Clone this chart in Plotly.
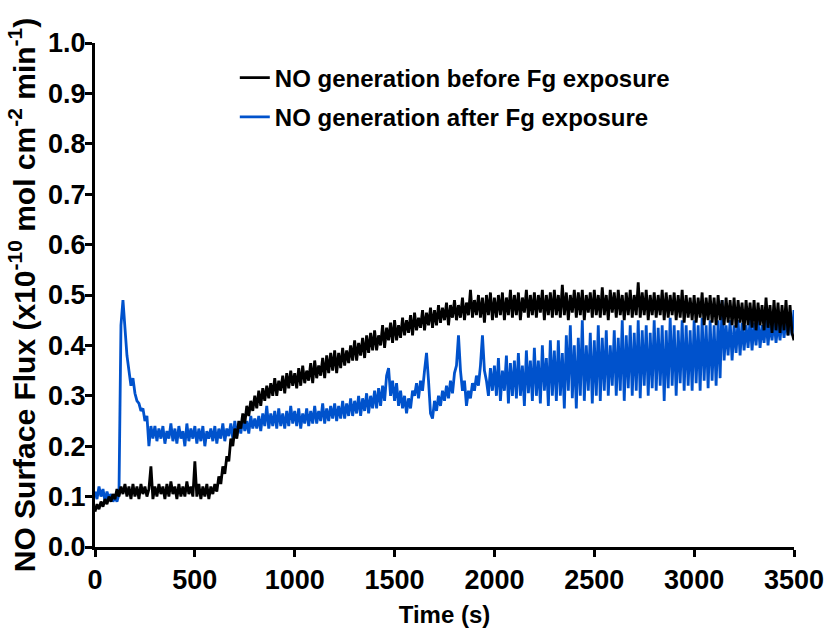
import plotly.graph_objects as go

# time grid (s), one sample every 10 s
time_s = list(range(0, 3501, 10))

# NO flux before Fg exposure (x1e-10 mol cm^-2 min^-1)
before = [
    0.07, 0.085, 0.075, 0.09, 0.08, 0.095, 0.085, 0.10, 0.09, 0.105,
    0.095, 0.115, 0.10, 0.12, 0.105, 0.125, 0.10, 0.12, 0.095, 0.125,
    0.10, 0.12, 0.095, 0.125, 0.105, 0.12, 0.10, 0.115, 0.16, 0.095,
    0.12, 0.10, 0.125, 0.105, 0.12, 0.095, 0.125, 0.10, 0.13, 0.105,
    0.12, 0.095, 0.125, 0.10, 0.12, 0.10, 0.13, 0.105, 0.12, 0.10,
    0.17, 0.10, 0.125, 0.095, 0.12, 0.10, 0.125, 0.095, 0.12, 0.105,
    0.125, 0.11, 0.14, 0.125, 0.16, 0.145, 0.18, 0.17, 0.215, 0.20,
    0.235, 0.215, 0.25, 0.235, 0.265, 0.245, 0.28, 0.26, 0.29, 0.27,
    0.30, 0.275, 0.31, 0.28, 0.315, 0.29, 0.32, 0.295, 0.325, 0.30,
    0.335, 0.30, 0.33, 0.31, 0.34, 0.305, 0.345, 0.315, 0.35, 0.32,
    0.345, 0.315, 0.355, 0.32, 0.36, 0.325, 0.35, 0.33, 0.365, 0.325,
    0.37, 0.335, 0.36, 0.34, 0.375, 0.335, 0.38, 0.345, 0.385, 0.35,
    0.39, 0.345, 0.385, 0.355, 0.395, 0.36, 0.39, 0.365, 0.40, 0.37,
    0.41, 0.37, 0.405, 0.38, 0.415, 0.375, 0.42, 0.385, 0.425, 0.39,
    0.43, 0.39, 0.42, 0.40, 0.44, 0.395, 0.435, 0.41, 0.445, 0.405,
    0.45, 0.41, 0.44, 0.415, 0.455, 0.42, 0.45, 0.425, 0.46, 0.42,
    0.465, 0.43, 0.455, 0.435, 0.47, 0.43, 0.465, 0.44, 0.475, 0.435,
    0.47, 0.44, 0.48, 0.445, 0.475, 0.45, 0.485, 0.44, 0.48, 0.455,
    0.49, 0.45, 0.48, 0.455, 0.495, 0.45, 0.485, 0.46, 0.51, 0.455,
    0.49, 0.46, 0.50, 0.455, 0.495, 0.445, 0.50, 0.46, 0.505, 0.45,
    0.495, 0.455, 0.50, 0.46, 0.505, 0.45, 0.495, 0.46, 0.51, 0.455,
    0.50, 0.46, 0.505, 0.45, 0.495, 0.465, 0.51, 0.455, 0.50, 0.46,
    0.505, 0.455, 0.50, 0.465, 0.51, 0.45, 0.50, 0.46, 0.505, 0.455,
    0.51, 0.46, 0.50, 0.455, 0.52, 0.46, 0.505, 0.45, 0.50, 0.465,
    0.51, 0.455, 0.505, 0.46, 0.51, 0.45, 0.50, 0.465, 0.505, 0.455,
    0.51, 0.46, 0.50, 0.455, 0.515, 0.46, 0.50, 0.45, 0.51, 0.465,
    0.505, 0.455, 0.51, 0.46, 0.50, 0.45, 0.505, 0.46, 0.51, 0.455,
    0.50, 0.46, 0.525, 0.455, 0.505, 0.46, 0.51, 0.45, 0.50, 0.46,
    0.505, 0.455, 0.50, 0.46, 0.51, 0.45, 0.505, 0.455, 0.50, 0.46,
    0.505, 0.45, 0.50, 0.455, 0.51, 0.445, 0.50, 0.455, 0.495, 0.45,
    0.50, 0.445, 0.495, 0.455, 0.505, 0.44, 0.495, 0.45, 0.50, 0.445,
    0.495, 0.44, 0.50, 0.45, 0.49, 0.44, 0.495, 0.445, 0.49, 0.44,
    0.495, 0.435, 0.49, 0.445, 0.485, 0.43, 0.49, 0.44, 0.485, 0.435,
    0.49, 0.43, 0.485, 0.44, 0.48, 0.43, 0.495, 0.435, 0.48, 0.425,
    0.49, 0.43, 0.485, 0.425, 0.48, 0.43, 0.49, 0.42, 0.48, 0.425,
    0.41,
]

# NO flux after Fg exposure
after = [
    0.11, 0.095, 0.12, 0.10, 0.115, 0.09, 0.11, 0.095, 0.105, 0.09,
    0.10, 0.09, 0.105, 0.44, 0.49, 0.43, 0.38, 0.35, 0.32, 0.335,
    0.305, 0.29, 0.285, 0.27, 0.275, 0.25, 0.26, 0.20, 0.24, 0.215,
    0.24, 0.21, 0.235, 0.215, 0.24, 0.205, 0.23, 0.215, 0.245, 0.21,
    0.235, 0.205, 0.24, 0.215, 0.23, 0.20, 0.245, 0.21, 0.235, 0.215,
    0.24, 0.205, 0.235, 0.21, 0.24, 0.20, 0.23, 0.215, 0.235, 0.21,
    0.24, 0.205, 0.235, 0.215, 0.245, 0.21, 0.235, 0.22, 0.245, 0.215,
    0.25, 0.22, 0.245, 0.225, 0.255, 0.23, 0.25, 0.225, 0.26, 0.235,
    0.255, 0.235, 0.26, 0.23, 0.265, 0.24, 0.28, 0.235, 0.265, 0.24,
    0.27, 0.235, 0.275, 0.24, 0.265, 0.235, 0.27, 0.24, 0.28, 0.245,
    0.27, 0.24, 0.275, 0.235, 0.265, 0.245, 0.275, 0.24, 0.27, 0.245,
    0.28, 0.245, 0.27, 0.25, 0.285, 0.245, 0.275, 0.25, 0.28, 0.255,
    0.285, 0.25, 0.28, 0.255, 0.29, 0.255, 0.285, 0.26, 0.295, 0.26,
    0.29, 0.265, 0.30, 0.26, 0.295, 0.27, 0.305, 0.265, 0.30, 0.275,
    0.31, 0.275, 0.315, 0.28, 0.32, 0.29, 0.34, 0.355, 0.30, 0.33,
    0.29, 0.325, 0.28, 0.31, 0.275, 0.30, 0.265, 0.295, 0.275, 0.31,
    0.30, 0.325, 0.295, 0.33, 0.31, 0.35, 0.385, 0.33, 0.265, 0.255,
    0.29, 0.27, 0.30, 0.28, 0.31, 0.29, 0.32, 0.295, 0.33, 0.305,
    0.345, 0.36, 0.42, 0.35, 0.31, 0.33, 0.28, 0.31, 0.295, 0.325,
    0.31, 0.34, 0.32, 0.36, 0.42, 0.35, 0.33, 0.30, 0.355, 0.31,
    0.36, 0.30, 0.375, 0.29, 0.35, 0.31, 0.38, 0.285, 0.365, 0.30,
    0.37, 0.295, 0.385, 0.30, 0.36, 0.28, 0.39, 0.305, 0.37, 0.29,
    0.395, 0.30, 0.37, 0.285, 0.40, 0.31, 0.375, 0.28, 0.41, 0.30,
    0.39, 0.29, 0.41, 0.30, 0.385, 0.275, 0.42, 0.31, 0.44, 0.295,
    0.40, 0.275, 0.415, 0.30, 0.45, 0.29, 0.40, 0.31, 0.425, 0.285,
    0.41, 0.30, 0.44, 0.29, 0.415, 0.31, 0.43, 0.30, 0.40, 0.32,
    0.43, 0.30, 0.415, 0.31, 0.45, 0.29, 0.42, 0.315, 0.44, 0.30,
    0.425, 0.31, 0.45, 0.295, 0.43, 0.32, 0.44, 0.30, 0.425, 0.315,
    0.45, 0.31, 0.435, 0.32, 0.44, 0.29, 0.43, 0.315, 0.455, 0.32,
    0.44, 0.30, 0.43, 0.325, 0.45, 0.31, 0.44, 0.32, 0.43, 0.31,
    0.45, 0.325, 0.44, 0.31, 0.455, 0.33, 0.44, 0.315, 0.45, 0.33,
    0.44, 0.32, 0.45, 0.335, 0.49, 0.37, 0.44, 0.38, 0.45, 0.37,
    0.44, 0.385, 0.45, 0.38, 0.445, 0.39, 0.44, 0.395, 0.45, 0.39,
    0.445, 0.40, 0.45, 0.395, 0.44, 0.405, 0.45, 0.40, 0.445, 0.41,
    0.45, 0.405, 0.445, 0.41, 0.455, 0.415, 0.45, 0.42, 0.46, 0.42,
    0.47,
]

assert len(before) == len(time_s), len(before)
assert len(after) == len(time_s), len(after)

series_names = ["NO generation before Fg exposure", "NO generation after Fg exposure"]
x_ticks = [0, 500, 1000, 1500, 2000, 2500, 3000, 3500]
y_ticks = [0.0, 0.1, 0.2, 0.3, 0.4, 0.5, 0.6, 0.7, 0.8, 0.9, 1.0]

FONT = "Liberation Sans, Arial, Helvetica, sans-serif"
BLUE = "#0052CC"

fig = go.Figure()
fig.add_trace(go.Scatter(
    x=time_s, y=after, mode="lines", name=series_names[1],
    line=dict(color=BLUE, width=2.8), legendrank=2, legendgroup="b",
))
fig.add_trace(go.Scatter(
    x=time_s, y=before, mode="lines", name=series_names[0],
    line=dict(color="black", width=2.8), legendrank=1, legendgroup="a",
))

fig.update_layout(
    width=836, height=636,
    margin=dict(l=95, r=31, t=43, b=76),
    plot_bgcolor="white", paper_bgcolor="white",
    font=dict(family=FONT, color="black", size=24, weight="bold"),
    showlegend=True,
    legend=dict(
        x=0.2, y=0.975, xanchor="left", yanchor="top",
        bgcolor="rgba(0,0,0,0)", font=dict(size=24, weight="bold"),
        itemwidth=30, tracegroupgap=5,
    ),
    xaxis=dict(
        range=[0, 3500], tickvals=x_ticks, showline=True, linecolor="black",
        linewidth=3, ticks="outside", ticklen=7, tickwidth=3, tickcolor="black",
        showgrid=False, zeroline=False,
        tickfont=dict(size=27, weight="bold"),
        title=dict(text="Time (s)", font=dict(size=24, weight="bold"), standoff=12),
    ),
    yaxis=dict(
        range=[0, 1.0], tickvals=y_ticks, tickformat=".1f", showline=True,
        linecolor="black", linewidth=3, ticks="outside", ticklen=7, tickwidth=3,
        tickcolor="black", showgrid=False, zeroline=False,
        ticklabelstandoff=-6,
        tickfont=dict(size=27, weight="bold"),
        title=dict(
            text="NO Surface Flux (x10<sup>-10</sup> mol cm<sup>-2</sup> min<sup>-1</sup>)",
            font=dict(size=30, weight="bold"), standoff=4,
        ),
    ),
)

fig.write_html("out.html")
